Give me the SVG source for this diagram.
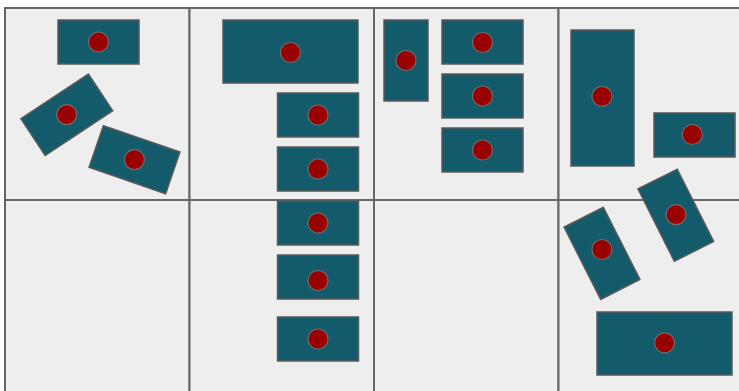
<svg xmlns="http://www.w3.org/2000/svg" width="739" height="391" viewBox="0 0 739 391">
<style>
.cell{fill:#eeeeee;stroke:#666666;stroke-width:2}
.box{fill:#135b6a;stroke:#5a5a5a;stroke-width:1.5}
.dot{fill:#990000;stroke:#6b6b6b;stroke-width:1.2}
</style>
<rect width="739" height="391" fill="#ffffff"/>
<g id="grid">
<rect class="cell" x="5" y="8" width="184.5" height="192"/>
<rect class="cell" x="189.5" y="8" width="184.5" height="192"/>
<rect class="cell" x="374" y="8" width="184.5" height="192"/>
<rect class="cell" x="558.5" y="8" width="184.5" height="192"/>
<rect class="cell" x="5" y="200" width="184.5" height="192"/>
<rect class="cell" x="189.5" y="200" width="184.5" height="192"/>
<rect class="cell" x="374" y="200" width="184.5" height="192"/>
<rect class="cell" x="558.5" y="200" width="184.5" height="192"/>
</g>
<g id="connectors"></g>
<g id="n1"><rect class="box" x="58" y="20" width="81" height="44"/><circle class="dot" cx="98.5" cy="42" r="10"/></g>
<g id="n2"><rect class="box" x="-40.5" y="-22" width="81" height="44" transform="translate(66.8,114.8) rotate(-33.5)"/><circle class="dot" cx="66.7" cy="114.7" r="10"/></g>
<g id="n3"><rect class="box" x="-40.5" y="-22" width="81" height="44" transform="translate(134.5,159.7) rotate(19)"/><circle class="dot" cx="134.4" cy="159.7" r="10"/></g>
<g id="n4"><rect class="box" x="223" y="20" width="135" height="63"/><circle class="dot" cx="290.5" cy="52.5" r="10"/></g>
<g id="n5"><rect class="box" x="277.5" y="93" width="81" height="44"/><circle class="dot" cx="318" cy="115" r="10"/></g>
<g id="n6"><rect class="box" x="277.5" y="147" width="81" height="44"/><circle class="dot" cx="318" cy="169" r="10"/></g>
<g id="n7"><rect class="box" x="277.5" y="201" width="81" height="44"/><circle class="dot" cx="318" cy="223" r="10"/></g>
<g id="n8"><rect class="box" x="277.5" y="255" width="81" height="44"/><circle class="dot" cx="318" cy="280.5" r="10"/></g>
<g id="n9"><rect class="box" x="277.5" y="317" width="81" height="44"/><circle class="dot" cx="318" cy="339" r="10"/></g>
<g id="n10"><rect class="box" x="384" y="20" width="44" height="81"/><circle class="dot" cx="406" cy="60.5" r="10"/></g>
<g id="n11"><rect class="box" x="442" y="20" width="81" height="44"/><circle class="dot" cx="482.5" cy="42.5" r="10"/></g>
<g id="n12"><rect class="box" x="442" y="74" width="81" height="44"/><circle class="dot" cx="482.5" cy="96" r="10"/></g>
<g id="n13"><rect class="box" x="442" y="128" width="81" height="44"/><circle class="dot" cx="482.5" cy="150" r="10"/></g>
<g id="n14"><rect class="box" x="571" y="30" width="63" height="136"/><circle class="dot" cx="602" cy="96.3" r="10"/></g>
<g id="n15"><rect class="box" x="654" y="113" width="81" height="44"/><circle class="dot" cx="692.3" cy="134.5" r="10"/></g>
<g id="n16"><rect class="box" x="-22" y="-40.5" width="44" height="81" transform="translate(675.8,215.2) rotate(-26.7)"/><circle class="dot" cx="676" cy="214.7" r="10"/></g>
<g id="n17"><rect class="box" x="-22" y="-40.5" width="44" height="81" transform="translate(602,253.3) rotate(-26.9)"/><circle class="dot" cx="602" cy="249.5" r="10"/></g>
<g id="n18"><rect class="box" x="597" y="312" width="135" height="63"/><circle class="dot" cx="664.5" cy="342.8" r="10"/></g>
</svg>
